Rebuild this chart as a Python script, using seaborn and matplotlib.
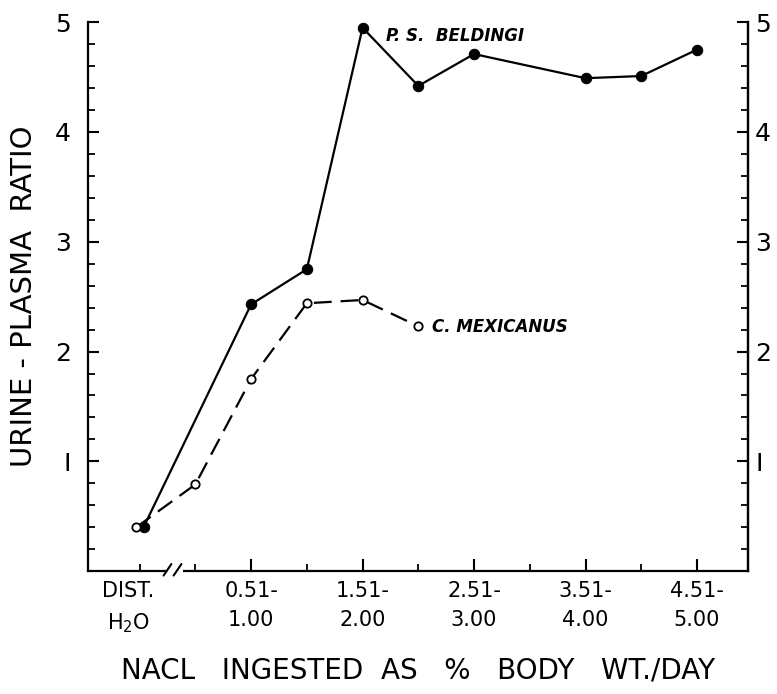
import matplotlib
matplotlib.use("Agg")
import matplotlib.pyplot as plt
import seaborn as sns
import pandas as pd

# ---- data ----
categories = ["DIST.\nH$_2$O", "0.51-\n1.00", "1.51-\n2.00", "2.51-\n3.00", "3.51-\n4.00", "4.51-\n5.00"]
category_pos = [-0.2, 2, 4, 6, 8, 10]
minor_pos = [0, 1, 3, 5, 7, 9]

beldingi_x = [0.07, 2, 3, 4, 5, 6, 8, 9, 10]
beldingi_y = [0.40, 2.43, 2.75, 4.95, 4.42, 4.71, 4.49, 4.51, 4.75]

mexicanus_x = [-0.06, 1, 2, 3, 4, 5]
mexicanus_y = [0.40, 0.79, 1.75, 2.44, 2.47, 2.23]

y_ticks = [1, 2, 3, 4, 5]
y_ticklabels = ["I", "2", "3", "4", "5"]

sns.set_theme(style="ticks")
plt.rcParams["font.family"] = ["DejaVu Sans"]
for k in ("text.color", "axes.labelcolor", "xtick.color", "ytick.color", "axes.edgecolor"):
    plt.rcParams[k] = "black"

fig = plt.figure(figsize=(7.77, 6.94), dpi=100)
ax = fig.add_axes([0.113, 0.177, 0.85, 0.791])

df_b = pd.DataFrame({"x": beldingi_x, "y": beldingi_y})
df_m = pd.DataFrame({"x": mexicanus_x, "y": mexicanus_y})

sns.lineplot(data=df_b, x="x", y="y", ax=ax, color="black", linewidth=1.6,
             marker="o", markersize=7.5, markerfacecolor="black",
             markeredgecolor="black", sort=False, estimator=None)
sns.lineplot(data=df_m, x="x", y="y", ax=ax, color="black", linewidth=1.6,
             linestyle=(0, (8, 4)), marker="o", markersize=6,
             markerfacecolor="white", markeredgecolor="black",
             markeredgewidth=1.3, sort=False, estimator=None)

ax.set_xlim(-0.93, 10.92)
ax.set_ylim(0, 5)

# y axis
ax.set_yticks(y_ticks)
ax.set_yticklabels(y_ticklabels, fontsize=18)
ax.set_yticks([v / 5 for v in range(1, 25) if v % 5 != 0], minor=True)
ax.tick_params(axis="y", which="major", direction="in", length=8, width=1.5, pad=12)
ax.tick_params(axis="y", which="minor", direction="in", length=5, width=1.3)

# x axis
ax.set_xticks(category_pos)
ax.set_xticklabels(categories, fontsize=15, linespacing=1.6)
ax.set_xticks(minor_pos, minor=True)
ax.tick_params(axis="x", which="major", direction="in", length=9, width=1.5, pad=7)
ax.tick_params(axis="x", which="minor", direction="in", length=5, width=1.3)
ax.xaxis.get_major_ticks()[0].tick1line.set_visible(False)

# right axis
ax2 = ax.twinx()
ax2.set_ylim(0, 5)
ax2.set_yticks(y_ticks)
ax2.set_yticklabels(y_ticklabels, fontsize=18)
ax2.set_yticks([v / 5 for v in range(1, 25) if v % 5 != 0], minor=True)
ax2.tick_params(axis="y", which="major", direction="in", length=8, width=1.5, pad=5)
ax2.tick_params(axis="y", which="minor", direction="in", length=5, width=1.3)

for a in (ax, ax2):
    a.spines["top"].set_visible(False)
    for s in ("left", "right", "bottom"):
        a.spines[s].set_linewidth(1.6)
        a.spines[s].set_color("black")
ax2.spines["bottom"].set_visible(False)
ax2.spines["left"].set_visible(False)

# axis break on x axis
trans = ax.get_xaxis_transform()
ax.plot([0.47, 0.78], [0, 0], color="white", linewidth=4, transform=trans,
        clip_on=False, zorder=5, solid_capstyle="butt")
for xb in (0.50, 0.68):
    ax.plot([xb - 0.07, xb + 0.07], [-0.008, 0.013], color="black", linewidth=1.5,
            transform=trans, clip_on=False, zorder=6)

ax.set_ylabel("URINE - PLASMA  RATIO", fontsize=21, labelpad=12)
ax.set_xlabel("NACL   INGESTED  AS   %   BODY   WT./DAY", fontsize=20, labelpad=15)

ax.text(4.42, 4.87, "P. S.  BELDINGI", fontsize=12, style="italic",
        fontweight="bold", va="center", ha="left")
ax.text(5.24, 2.22, "C. MEXICANUS", fontsize=12, style="italic",
        fontweight="bold", va="center", ha="left")

fig.savefig("out.png", dpi=100)
